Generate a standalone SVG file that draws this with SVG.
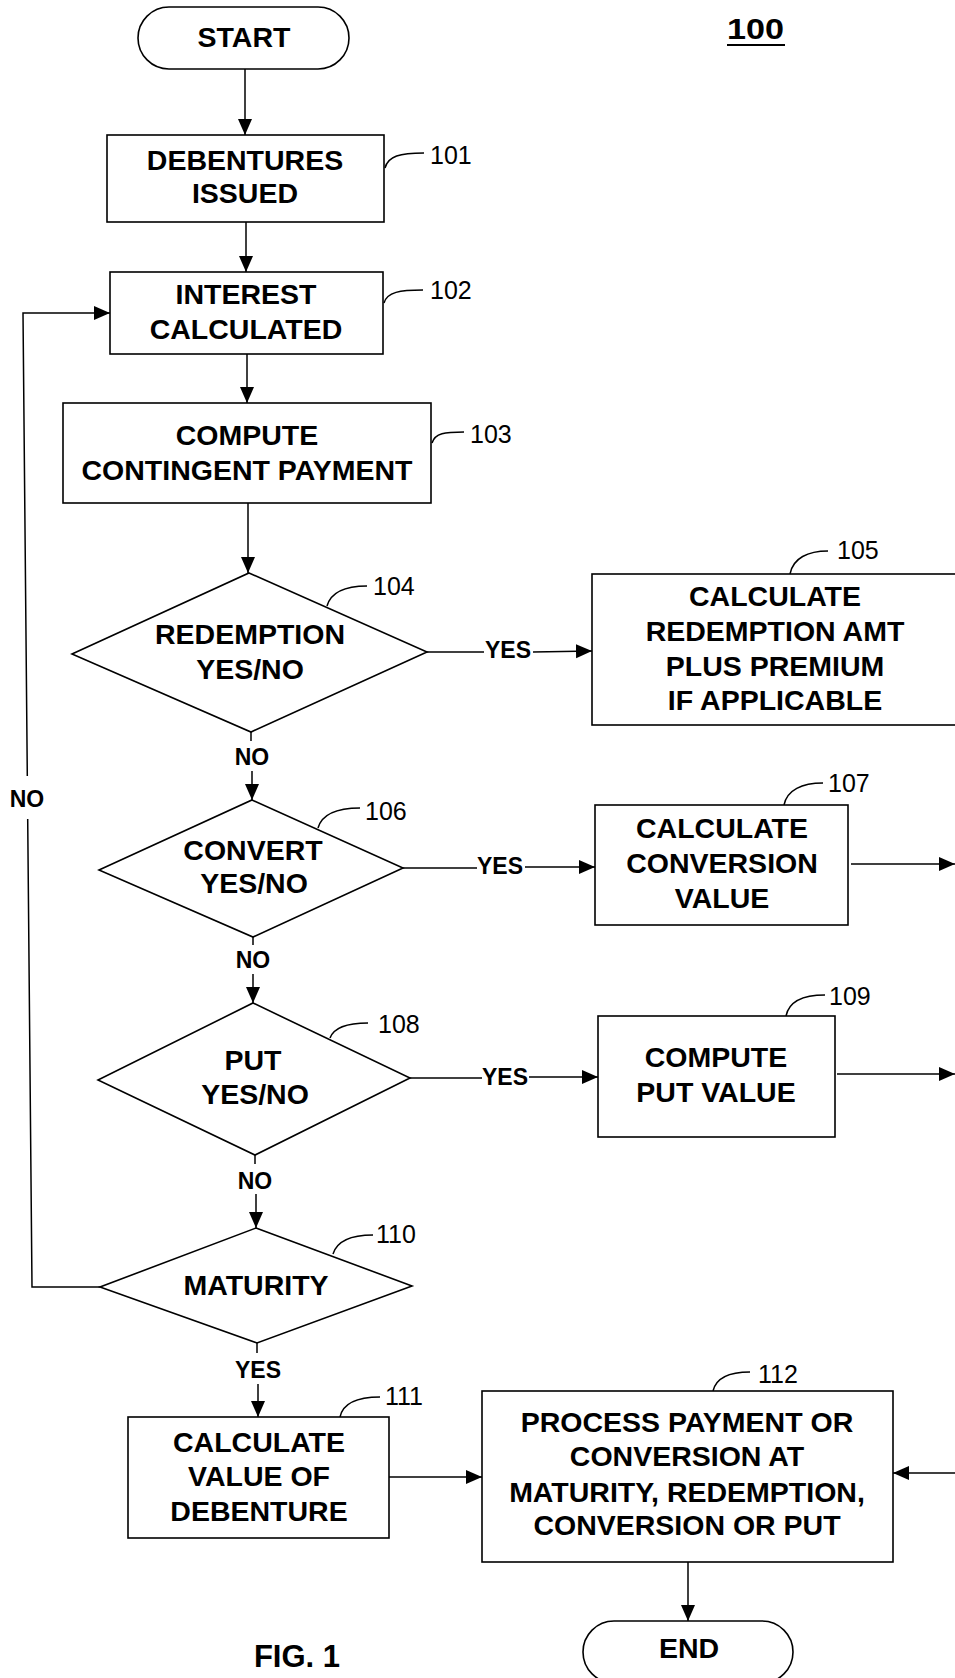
<svg xmlns="http://www.w3.org/2000/svg" width="955" height="1678" viewBox="0 0 955 1678">
<style>
.s{fill:#fff;stroke:#000;stroke-width:1.6}
.c{fill:none;stroke:#000;stroke-width:1.5}
.t{font-family:"Liberation Sans",Arial,sans-serif;font-weight:bold;font-size:28.5px;text-anchor:middle;fill:#000}
.l{font-family:"Liberation Sans",Arial,sans-serif;font-weight:bold;font-size:23px;text-anchor:middle;fill:#000}
.n{font-family:"Liberation Sans",Arial,sans-serif;font-size:25px;fill:#000}
</style>
<defs>
<marker id="ah" markerUnits="userSpaceOnUse" markerWidth="18" markerHeight="16" refX="16" refY="7" orient="auto">
<path d="M0,0 L16,7 L0,14 z" fill="#000"/>
</marker>
</defs>
<rect width="955" height="1678" fill="#fff"/>

<g id="connectors">
<line class="c" x1="245" y1="69" x2="245" y2="135" marker-end="url(#ah)"/>
<line class="c" x1="246" y1="222" x2="246" y2="272" marker-end="url(#ah)"/>
<line class="c" x1="247" y1="354" x2="247" y2="403" marker-end="url(#ah)"/>
<line class="c" x1="248" y1="503" x2="248" y2="573" marker-end="url(#ah)"/>
<!-- redemption -->
<line class="c" x1="427" y1="652" x2="484" y2="652"/>
<line class="c" x1="533" y1="652" x2="592" y2="651" marker-end="url(#ah)"/>
<line class="c" x1="251" y1="732" x2="251" y2="741"/>
<line class="c" x1="252" y1="771" x2="252" y2="800" marker-end="url(#ah)"/>
<!-- convert -->
<line class="c" x1="403" y1="868" x2="477" y2="868"/>
<line class="c" x1="525" y1="867" x2="595" y2="867" marker-end="url(#ah)"/>
<line class="c" x1="253" y1="937" x2="253" y2="945"/>
<line class="c" x1="253" y1="974" x2="253" y2="1003" marker-end="url(#ah)"/>
<line class="c" x1="851" y1="864" x2="955" y2="864" marker-end="url(#ah)"/>
<!-- put -->
<line class="c" x1="410" y1="1078" x2="482" y2="1078"/>
<line class="c" x1="529" y1="1077" x2="598" y2="1077" marker-end="url(#ah)"/>
<line class="c" x1="255" y1="1155" x2="255" y2="1164"/>
<line class="c" x1="256" y1="1194" x2="256" y2="1228" marker-end="url(#ah)"/>
<line class="c" x1="837" y1="1074" x2="955" y2="1074" marker-end="url(#ah)"/>
<!-- maturity -->
<line class="c" x1="257" y1="1343" x2="257" y2="1353"/>
<line class="c" x1="258" y1="1384" x2="258" y2="1417" marker-end="url(#ah)"/>
<polyline class="c" points="100,1287 32,1287 27.7,819"/>
<polyline class="c" points="27.3,776 23,313 110,313" marker-end="url(#ah)"/>
<line class="c" x1="389" y1="1477" x2="482" y2="1477" marker-end="url(#ah)"/>
<line class="c" x1="955" y1="1473" x2="893" y2="1473" marker-end="url(#ah)"/>
<line class="c" x1="688" y1="1562" x2="688" y2="1621" marker-end="url(#ah)"/>
<!-- edge labels -->
<text class="l" x="508" y="658">YES</text>
<text class="l" x="252" y="765">NO</text>
<text class="l" x="500" y="874">YES</text>
<text class="l" x="253" y="968">NO</text>
<text class="l" x="505" y="1085">YES</text>
<text class="l" x="255" y="1189">NO</text>
<text class="l" x="258" y="1378">YES</text>
<text class="l" x="27" y="807">NO</text>
<!-- leaders -->
<path class="c" d="M385,168 C388,156 400,153 424,153"/>
<path class="c" d="M384,303 C387,292 400,290 423,290"/>
<path class="c" d="M432,443 C435,433 445,432 464,432"/>
<path class="c" d="M327,606 C331,592 345,586 367,586"/>
<path class="c" d="M790,574 C793,558 808,551 828,551"/>
<path class="c" d="M318,828 C322,814 337,808 360,808"/>
<path class="c" d="M784,805 C787,790 802,783 823,783"/>
<path class="c" d="M330,1038 C334,1027 347,1023 368,1023"/>
<path class="c" d="M786,1016 C789,1001 804,995 825,995"/>
<path class="c" d="M333,1254 C337,1241 351,1235 373,1235"/>
<path class="c" d="M340,1417 C343,1403 358,1397 380,1397"/>
<path class="c" d="M713,1391 C716,1378 730,1372 750,1372"/>
</g>

<g id="title">
<text x="727" y="39" font-family="Liberation Sans, Arial, sans-serif" font-weight="bold" font-size="29" textLength="57" lengthAdjust="spacingAndGlyphs">100</text>
<line x1="727" y1="45" x2="785" y2="45" stroke="#000" stroke-width="2"/>
</g>

<g id="start">
<rect class="s" x="138" y="7" width="211" height="62" rx="31"/>
<text class="t" x="244" y="47">START</text>
</g>

<g id="n101">
<rect class="s" x="107" y="135" width="277" height="87"/>
<text class="t" x="245" y="170">DEBENTURES</text>
<text class="t" x="245" y="203">ISSUED</text>
<text class="n" x="430" y="164">101</text>
</g>

<g id="n102">
<rect class="s" x="110" y="272" width="273" height="82"/>
<text class="t" x="246" y="304">INTEREST</text>
<text class="t" x="246" y="339">CALCULATED</text>
<text class="n" x="430" y="299">102</text>
</g>

<g id="n103">
<rect class="s" x="63" y="403" width="368" height="100"/>
<text class="t" x="247" y="445">COMPUTE</text>
<text class="t" x="247" y="480">CONTINGENT PAYMENT</text>
<text class="n" x="470" y="443">103</text>
</g>

<g id="n104">
<polygon class="s" points="249,573 427,652 251,732 72,654"/>
<text class="t" x="250" y="644">REDEMPTION</text>
<text class="t" x="250" y="679">YES/NO</text>
<text class="n" x="373" y="595">104</text>
</g>

<g id="n105">
<rect class="s" x="592" y="574" width="380" height="151"/>
<text class="t" x="775" y="606">CALCULATE</text>
<text class="t" x="775" y="641">REDEMPTION AMT</text>
<text class="t" x="775" y="676">PLUS PREMIUM</text>
<text class="t" x="775" y="710">IF APPLICABLE</text>
<text class="n" x="837" y="559">105</text>
</g>

<g id="n106">
<polygon class="s" points="252,800 403,868 253,937 99,870"/>
<text class="t" x="253" y="860">CONVERT</text>
<text class="t" x="254" y="893">YES/NO</text>
<text class="n" x="365" y="820">106</text>
</g>

<g id="n107">
<rect class="s" x="595" y="805" width="253" height="120"/>
<text class="t" x="722" y="838">CALCULATE</text>
<text class="t" x="722" y="873">CONVERSION</text>
<text class="t" x="722" y="908">VALUE</text>
<text class="n" x="828" y="792">107</text>
</g>

<g id="n108">
<polygon class="s" points="253,1003 410,1078 255,1155 98,1080"/>
<text class="t" x="253" y="1070">PUT</text>
<text class="t" x="255" y="1104">YES/NO</text>
<text class="n" x="378" y="1033">108</text>
</g>

<g id="n109">
<rect class="s" x="598" y="1016" width="237" height="121"/>
<text class="t" x="716" y="1067">COMPUTE</text>
<text class="t" x="716" y="1102">PUT VALUE</text>
<text class="n" x="829" y="1005">109</text>
</g>

<g id="n110">
<polygon class="s" points="256,1228 412,1286 257,1343 100,1287"/>
<text class="t" x="256" y="1295">MATURITY</text>
<text class="n" x="376" y="1243">110</text>
</g>

<g id="n111">
<rect class="s" x="128" y="1417" width="261" height="121"/>
<text class="t" x="259" y="1452">CALCULATE</text>
<text class="t" x="259" y="1486">VALUE OF</text>
<text class="t" x="259" y="1521">DEBENTURE</text>
<text class="n" x="385" y="1405">111</text>
</g>

<g id="n112">
<rect class="s" x="482" y="1391" width="411" height="171"/>
<text class="t" x="687" y="1432">PROCESS PAYMENT OR</text>
<text class="t" x="687" y="1466">CONVERSION AT</text>
<text class="t" x="687" y="1502">MATURITY, REDEMPTION,</text>
<text class="t" x="687" y="1535">CONVERSION OR PUT</text>
<text class="n" x="758" y="1383">112</text>
</g>

<g id="end">
<rect class="s" x="583" y="1621" width="210" height="62" rx="31"/>
<text class="t" x="689" y="1658">END</text>
</g>

<g id="caption">
<text x="297" y="1667" font-family="Liberation Sans, Arial, sans-serif" font-weight="bold" font-size="31" text-anchor="middle">FIG. 1</text>
</g>
</svg>
